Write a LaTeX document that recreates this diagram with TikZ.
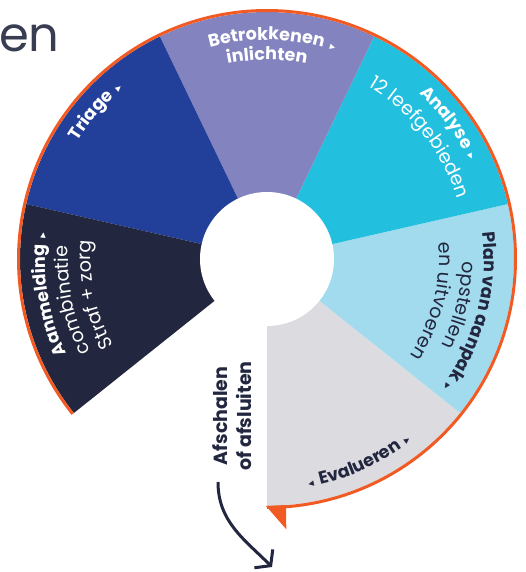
\documentclass[tikz,border=0pt]{standalone}
\usepackage{fontspec}
\setmainfont{Poppins}
\newfontfamily\symfont{DejaVu Sans}
\usetikzlibrary{decorations.text,arrows.meta}

\definecolor{evalgrey}{HTML}{DCDBE0}
\definecolor{planblue}{HTML}{A2DBEE}
\definecolor{analysecyan}{HTML}{22BFDF}
\definecolor{betrlila}{HTML}{8383BF}
\definecolor{triageblue}{HTML}{22409A}
\definecolor{aanmnavy}{HTML}{22273F}
\definecolor{rimorange}{HTML}{F15A22}
\definecolor{inkdark}{HTML}{22273F}

\newcommand{\lblbold}{\bfseries\fontsize{17.5}{20}\selectfont}
\newcommand{\lbllight}{\fontsize{19}{22}\selectfont}
\newcommand{\trifont}{\symfont\fontsize{11}{11}\selectfont}
\newcommand{\tri}{{\kern6pt\trifont ▸}}

\begin{document}
\begin{tikzpicture}
 		[x=1pt,y=1pt,
 		 curvtxt/.style={decorate,decoration={text along path,text align=center,text={#1}}}]
 		\useasboundingbox (-267,-313) rectangle (259,259);
 		% wheel
 		\foreach \col [count=\k from 0] in {evalgrey,planblue,analysecyan,betrlila,triageblue,aanmnavy}
 		{
 			\pgfmathsetmacro\sa{-90+\k*360/7}
 			\pgfmathsetmacro\ea{\sa+360/7}
 			\fill[\col] (0,0) -- (\sa:247pt) arc[start angle=\sa,end angle=\ea,radius=247pt] -- cycle;
 		}
 		\fill[white] (0,0) circle[radius=67pt];
 		\draw[rimorange,line width=3pt] (218.57:248.5pt) arc[start angle=218.57,end angle=-90,radius=248.5pt];
 		\fill[rimorange] (-1,-247) -- (19,-246) -- (19.3,-270.3) -- cycle;
 		% labels
 		\path[curvtxt={|\lblbold\color{white}|Betrokkenen\tri}]
 			(118.6:219pt) arc[start angle=118.6,end angle=58.6,radius=219pt];
 		\path[curvtxt={|\lblbold\color{white}|inlichten}]
 			(120:199pt) arc[start angle=120,end angle=60,radius=199pt];
 		\path[curvtxt={|\lblbold\color{white}|Triage\tri}]
 			(169.2:223pt) arc[start angle=169.2,end angle=109.2,radius=223pt];
 		\path[curvtxt={|\lblbold\color{white}|Analyse\tri}]
 			(66.7:225pt) arc[start angle=66.7,end angle=6.7,radius=225pt];
 		\path[curvtxt={|\lbllight\color{white}|12 leefgebieden}]
 			(68.5:200pt) arc[start angle=68.5,end angle=8.5,radius=200pt];
 		\path[curvtxt={|\lblbold\color{inkdark}|Plan van aanpak\tri}]
 			(15.5:217pt) arc[start angle=15.5,end angle=-44.5,radius=217pt];
 		\path[curvtxt={|\lbllight\color{inkdark}|opstellen}]
 			(16.5:195pt) arc[start angle=16.5,end angle=-43.5,radius=195pt];
 		\path[curvtxt={|\lbllight\color{inkdark}|en uitvoeren}]
 			(15.65:172pt) arc[start angle=15.65,end angle=-44.35,radius=172pt];
 		\path[curvtxt={|\lblbold\color{white}|Aanmelding\tri}]
 			(219.3:222pt) arc[start angle=219.3,end angle=159.3,radius=222pt];
 		\path[curvtxt={|\lbllight\color{white}|combinatie}]
 			(221.9:199pt) arc[start angle=221.9,end angle=161.9,radius=199pt];
 		\path[curvtxt={|\lbllight\color{white}|Straf + zorg}]
 			(221.7:176pt) arc[start angle=221.7,end angle=161.7,radius=176pt];
 		\path[curvtxt={|\lblbold\color{inkdark}|{\trifont ◂\kern6pt}Evalueren\tri}]
 			(-95.6:232pt) arc[start angle=-95.6,end angle=-35.6,radius=232pt];
 		% afschalen
 		\node[rotate=90,align=center,text=inkdark,font=\bfseries\fontsize{19}{24}\selectfont]
 			(afschalen) at (-35,-157) {Afschalen\\of afsluiten};
 		\coordinate (arrstart) at (-49,-223);
 		\coordinate (arrend) at (5,-308);
 		\draw[inkdark,line width=3pt,-{Straight Barb[length=10pt,width=26pt]}]
 			(arrstart) to[out=-90,in=135] (arrend);
 		% title rest
 		\node[anchor=base west,inner sep=0pt,text=inkdark!90,font=\fontsize{48}{50}\selectfont]
 			(titleen) at (-268,207) {en};
 	\end{tikzpicture}
\end{document}
